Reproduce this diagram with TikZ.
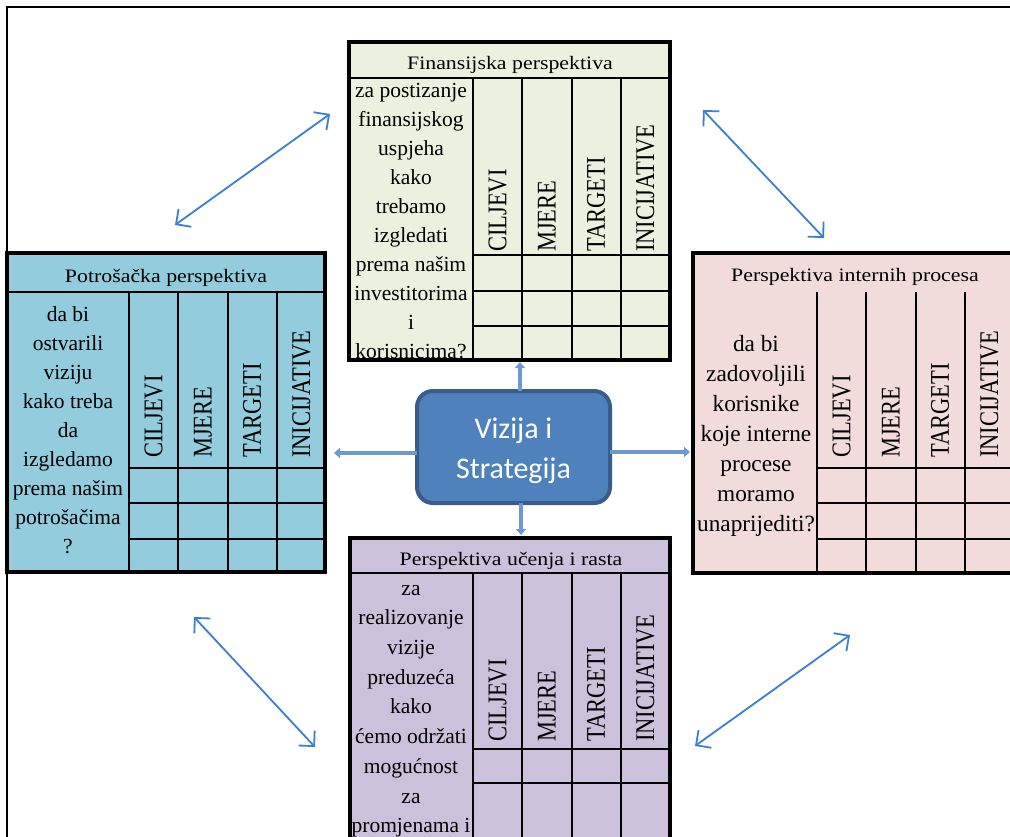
\documentclass[tikz,border=0pt]{standalone}
\usepackage{fontspec}
\usepackage{graphicx}
\usetikzlibrary{arrows.meta}
\newfontfamily\tabfont{Liberation Serif}[FakeStretch=1.15]
\newfontfamily\labfont{Liberation Serif}
\newfontfamily\vizfont{Carlito}
\definecolor{finboja}{HTML}{EBF1DE}
\definecolor{potboja}{HTML}{93CDDD}
\definecolor{intboja}{HTML}{F2DCDB}
\definecolor{uceboja}{HTML}{CCC1DA}
\definecolor{vizboja}{HTML}{4F81BD}
\definecolor{vizrub}{HTML}{385D8A}
\definecolor{strboja}{RGB}{59,125,216}
\definecolor{kratka}{RGB}{110,152,208}

\begin{document}
\begin{tikzpicture}[x=1pt, y=-1pt,
    tabla/.style={draw, line width=3.5pt, inner sep=0pt, outer sep=0pt, anchor=north west},
    mreza/.style={line width=2.4pt},
    zaglavlje/.style={font=\tabfont\fontsize{19}{20}\selectfont, anchor=base, inner sep=0pt},
    pitanje/.style={font=\labfont\fontsize{21.5}{29}\selectfont, align=center, anchor=north, inner sep=0pt},
    oznaka/.style={font=\labfont\fontsize{22.5}{24}\selectfont, rotate=90, anchor=west, inner sep=0pt},
    strelica/.style={draw=kratka, line width=3.5pt, -{Triangle[width=10pt,length=6pt]}},
    dvostrelica/.style={draw=strboja, line width=1.8pt, {Straight Barb[length=11pt,width=22pt]}-{Straight Barb[length=11pt,width=22pt]}}]

    \useasboundingbox[fill=white] (0,0) rectangle (1010,837);
    \clip (0,0) rectangle (1010,837);

    \draw[line width=1.7pt] (7,840) -- (7,7) -- (1015,7);

    \node[tabla, fill=finboja, minimum width=321, minimum height=318] (fin) at (349,42) {};
    \node[tabla, fill=potboja, minimum width=318, minimum height=319] (pot) at (7,253) {};
    \node[tabla, fill=intboja, minimum width=322, minimum height=320] (int) at (693,253) {};
    \node[tabla, fill=uceboja, minimum width=320, minimum height=360] (uce) at (350,538) {};

    \node[zaglavlje] (fin-naslov) at (510,70) {Finansijska perspektiva};
    \node[zaglavlje] (pot-naslov) at (166,283) {Potrošačka perspektiva};
    \node[zaglavlje] (int-naslov) at (855,282) {Perspektiva internih procesa};
    \node[zaglavlje] (uce-naslov) at (511,565) {Perspektiva učenja i rasta};

    \begin{scope}
      \clip (349,78) rectangle (473,360);
      \node[pitanje] (fin-tekst) at (411,77) {\strut za postizanje\\ finansijskog\\ uspjeha\\ kako\\ trebamo\\ izgledati\\ prema našim\\ investitorima\\ i\\ korisnicima?};
    \end{scope}
    \node[pitanje] (pot-tekst) at (68,300.7) {\strut da bi\\ ostvarili\\ viziju\\ kako treba\\ da\\ izgledamo\\ prema našim\\ potrošačima\\ ?};
    \node[pitanje, font=\labfont\fontsize{23.3}{30}\selectfont] (int-tekst) at (756,330) {\strut da bi\\ zadovoljili\\ korisnike\\ koje interne\\ procese\\ moramo\\ unaprijediti?};
    \node[pitanje, font=\labfont\fontsize{21.5}{29.7}\selectfont] (uce-tekst) at (411,574.2) {\strut za\\ realizovanje\\ vizije\\ preduzeća\\ kako\\ ćemo održati\\ mogućnost\\ za\\ promjenama i};

    \foreach \ime/\xl/\yl in {fin/473/252, pot/129/458, int/817/458, uce/473/742}
      \foreach \t [count=\i] in {CILJEVI, MJERE, TARGETI, INICIJATIVE}
        \node[oznaka] (\ime-\i) at (\xl+49.25*\i-24.6,\yl) {\scalebox{1}[1.2]{\t}};

    \draw[mreza] (349,78) -- (670,78);
    \foreach \x in {473,522,572,621} \draw[mreza] (\x,78) -- (\x,360);
    \foreach \y in {255,291,326} \draw[mreza] (473,\y) -- (670,\y);

    \draw[mreza] (7,292) -- (325,292);
    \foreach \x in {129,178,228,277} \draw[mreza] (\x,292) -- (\x,572);
    \foreach \y in {468,503,539} \draw[mreza] (129,\y) -- (325,\y);

    \foreach \x in {817,866,916,965,1014} \draw[mreza] (\x,292) -- (\x,573);
    \foreach \y in {468,503,539} \draw[mreza] (817,\y) -- (1015,\y);

    \draw[mreza] (350,573) -- (670,573);
    \foreach \x in {473,522,572,621} \draw[mreza] (\x,573) -- (\x,900);
    \foreach \y in {749,783} \draw[mreza] (473,\y) -- (670,\y);

    \draw[line width=3.5pt] (fin.north west) rectangle (fin.south east);
    \draw[line width=3.5pt] (pot.north west) rectangle (pot.south east);
    \draw[line width=3.5pt] (int.north west) rectangle (int.south east);
    \draw[line width=3.5pt] (uce.north west) rectangle (uce.south east);

    \node[draw=vizrub, fill=vizboja, line width=4pt, rounded corners=16pt, minimum width=193, minimum height=112, inner sep=0pt, outer sep=0pt] (vizija) at (513.5,447) {};
    \node[text=white, align=center, inner sep=0pt, font=\vizfont\fontsize{30}{40}\selectfont] (vizija-tekst) at ([yshift=-4pt]vizija.center) {Vizija i\\ Strategija};

    \coordinate (g1) at ([xshift=6.5pt]vizija.north);
    \coordinate (g2) at ([yshift=-6pt]vizija.west);
    \coordinate (g3) at ([yshift=-5pt]vizija.east);
    \coordinate (g4) at ([xshift=7.5pt]vizija.south);
    \draw[strelica, shorten >=2pt] (g1) -- (g1 |- fin.south);
    \draw[strelica, shorten >=9pt] (g2) -- (g2 -| pot.east);
    \draw[strelica, shorten >=3pt] (g3) -- (g3 -| int.west);
    \draw[strelica, shorten >=3pt] (g4) -- (g4 |- uce.north);

    \coordinate (a1) at (175,225); \coordinate (a2) at (330,114);
    \coordinate (b1) at (703,110); \coordinate (b2) at (824,238);
    \coordinate (c1) at (194,617); \coordinate (c2) at (315,747);
    \coordinate (d1) at (695,746); \coordinate (d2) at (850,635);
    \draw[dvostrelica] (a1) -- (a2);
    \draw[dvostrelica] (b1) -- (b2);
    \draw[dvostrelica] (c1) -- (c2);
    \draw[dvostrelica] (d1) -- (d2);
\end{tikzpicture}
\end{document}
